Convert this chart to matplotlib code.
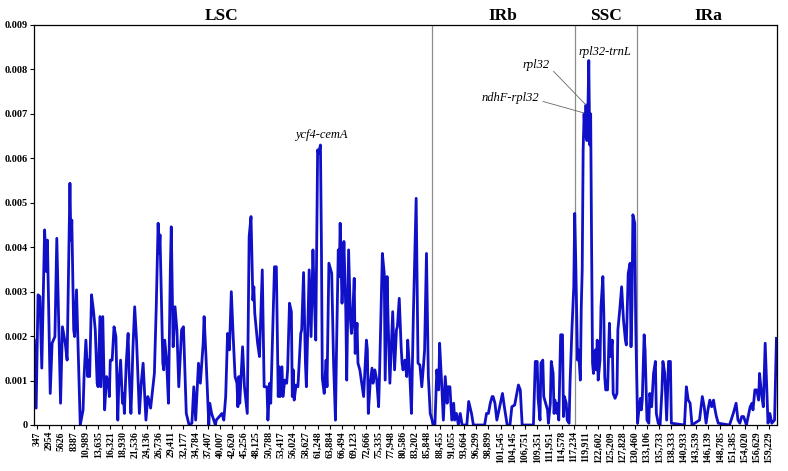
import matplotlib
matplotlib.use("Agg")
import matplotlib.pyplot as plt

# ---- data -------------------------------------------------------------
tick_labels = ["347", "2954", "5626", "8387", "10,989", "13,635", "16,321", "18,930",
               "21,536", "24,136", "26,736", "29,411", "32,177", "34,784", "37,407",
               "40,007", "42,620", "45,256", "48,125", "50,788", "53,417", "56,024",
               "58,627", "61,248", "63,884", "66,494", "69,123", "72,666", "75,335",
               "77,948", "80,586", "83,202", "85,848", "88,455", "91,055", "93,664",
               "96,299", "98,899", "101,545", "104,145", "106,751", "109,351", "111,951",
               "114,578", "117,234", "119,911", "122,602", "125,209", "127,828", "130,460",
               "133,106", "135,733", "138,333", "140,933", "143,539", "146,139", "148,785",
               "151,385", "154,020", "156,629", "159,229"]
tick_windows = [3 + 13 * k for k in range(len(tick_labels))]   # window index of each label

# window index (x) and nucleotide diversity Pi (x 0.001)
win = [0, 2, 4, 6, 8, 11, 13, 14, 17, 19, 22, 24, 28, 30, 33, 35, 38, 39, 40, 42, 43, 45, 49,
       52, 53, 55, 57, 58, 59, 61, 63, 65, 67, 68, 70, 71, 73, 75, 77, 79, 80, 81, 83, 85, 87,
       89, 90, 92, 94, 95, 96, 98, 100, 101, 103, 104, 105, 107, 109, 112, 114, 116, 119, 121,
       123, 124, 128, 130, 132, 133, 134, 137, 138, 139, 141, 143, 145, 146, 148, 150, 152,
       154, 157, 159, 162, 165, 168, 170, 172, 175, 177, 180, 181, 183, 186, 187, 189, 193,
       194, 200, 202, 204, 206, 208, 210, 212, 214, 216, 217, 218, 219, 222, 224, 227, 229,
       231, 233, 234, 235, 238, 240, 241, 243, 245, 248, 249, 251, 252, 256, 258, 260,
       261, 262, 264, 265, 267, 269, 270, 272, 274, 275, 276, 277, 279, 281, 284, 285, 287,
       289, 290, 293, 295, 297, 298, 300, 302, 303, 305, 306, 307, 309, 311, 312, 314, 317,
       319, 321, 322, 324, 325, 326, 328, 329, 330, 332, 333, 335, 337, 338, 339, 341, 342,
       344, 345, 347, 349, 351, 354, 355, 356, 358, 360, 361, 363, 365, 367, 368, 371, 373,
       374, 376, 377, 379, 381, 382, 384, 386, 387, 389, 391, 392, 393, 395, 397, 398, 400,
       402, 404, 407, 409, 411, 413, 415, 416, 418, 420, 422, 424, 425, 427, 429, 431, 432,
       434, 436, 438, 440, 441, 443, 445, 447, 448, 450, 452, 454, 456, 461, 463, 466, 468,
       480, 482, 484, 486, 488, 489, 491, 493, 496, 499, 501, 504, 507, 509, 512, 516, 518,
       519, 520, 532, 534, 536, 537, 539, 540, 542, 543, 545, 547, 548, 550, 551, 553, 554,
       555, 557, 558, 559, 561, 563, 564, 565, 567, 568, 570, 571, 573, 575, 576, 577, 579,
       580, 582, 583, 584, 585, 586, 587, 588, 589, 590, 591, 592, 593, 594, 595, 596, 598,
       599, 600, 601, 603, 604, 606, 607, 608, 609, 611, 613, 614, 616, 617, 619, 621, 622,
       624, 626, 628, 630, 631, 633, 635, 636, 637, 638, 640, 641, 643, 644, 646, 647, 648,
       650, 651, 653, 655, 656, 658, 660, 662, 663, 665, 667, 669, 670, 672, 674, 676, 678,
       679, 693, 695, 697, 699, 701, 709, 712, 714, 716, 718, 720, 722, 724, 725, 727, 729,
       741, 745, 748, 750, 752, 754, 756, 759, 763, 765, 766, 768, 770, 772, 773, 775, 777,
       779, 780, 782, 784, 786, 789, 791]
pi_milli = [1.91, 0.38, 2.93, 2.89, 1.28, 4.39, 3.45, 4.16, 0.71, 1.84, 1.99, 4.20, 0.49, 2.21,
            1.84, 1.46, 5.44, 4.16, 4.61, 2.14, 1.99, 3.04, 0.0,
            0.34, 1.05, 1.91, 1.09, 1.46, 1.09, 2.93, 2.59, 2.14, 0.94, 0.86, 2.44, 0.86, 2.44,
            0.34, 1.09, 0.94, 0.64, 1.46, 1.46, 2.21, 1.99,
            0.11, 0.86, 1.46, 0.49, 0.71, 0.26, 1.39, 2.06, 1.24, 0.26, 0.86, 1.65, 2.66, 1.91,
            0.26, 0.94, 1.39, 0.11, 0.64,
            0.49, 0.38, 1.16, 2.66, 4.54, 3.86, 4.28, 1.39, 1.24, 1.91, 1.46, 0.49, 3.49, 4.46,
            1.76, 2.66, 2.14,
            0.86, 2.14, 2.21, 0.26, 0.0, 0.04, 0.86, 0.11, 1.39, 0.94, 1.84, 2.44, 1.54, 0.0,
            0.49, 0.26, 0.0,
            0.11, 0.26, 0.11, 0.64, 2.06, 1.69, 3.00, 1.99, 1.09, 0.94, 0.41, 1.09, 0.49, 1.76,
            0.86, 0.26, 4.24,
            4.69, 2.81, 3.11, 2.51, 1.84, 1.54, 2.21, 3.49, 0.86, 0.86, 0.11, 0.94, 0.49, 3.56,
            3.56, 0.64,
            1.31, 0.64, 1.31, 0.64, 1.01, 0.94, 1.24, 2.74, 2.55, 0.64, 1.24, 0.56, 0.90, 0.86,
            2.06, 2.14, 3.43,
            1.39, 0.86, 3.49, 1.99, 3.94, 3.19, 1.91, 6.19, 6.11, 6.30, 4.16, 1.05, 0.71, 1.46,
            0.86, 3.64, 3.41,
            1.39, 0.11, 1.54, 3.94, 3.34, 4.54, 2.74, 3.34, 4.13, 2.59, 1.01, 3.94, 2.36, 2.06,
            2.29, 3.30, 1.61,
            2.29, 1.39, 1.24, 0.94, 0.64, 1.91, 1.69, 0.26, 0.94, 1.28, 0.94, 1.24, 1.01, 0.41,
            1.16, 3.86, 3.41,
            1.01, 3.34, 2.44, 0.94, 1.99, 2.55, 1.24, 2.14, 2.21, 2.85, 1.76, 1.39, 1.24, 1.46,
            1.09, 1.91, 1.24,
            0.26, 2.44, 5.10, 1.39, 1.35, 0.86, 1.39, 1.69, 3.86, 1.09, 0.26, 0.11, 0.0, 0.0,
            1.24, 0.79, 1.84,
            1.01, 0.11, 1.09, 0.49, 0.86, 0.86, 0.11, 0.49, 0.11, 0.26, 0.0, 0.26, 0.0, 0.0,
            0.53, 0.26, 0.0,
            0.0, 0.26, 0.26, 0.49, 0.64, 0.64, 0.49, 0.11, 0.41, 0.71, 0.41, 0.0, 0.0, 0.41,
            0.45, 0.90, 0.79,
            0.41, 0.0, 0.0, 1.43, 1.43, 0.60, 0.11, 1.39, 1.46, 0.64, 0.49, 0.34, 0.04, 0.49,
            1.43, 1.16, 0.26,
            0.56, 0.26, 0.49, 0.11, 2.03, 2.03, 0.19, 0.64, 0.49, 0.11, 0.04, 0.94, 2.14, 3.11,
            4.76, 3.79, 1.46,
            1.69, 1.01, 2.66, 3.50, 6.20, 7.00, 6.50, 7.20, 6.40, 7.00, 8.20, 6.30, 7.00, 4.00,
            1.39, 1.16, 1.69,
            1.24, 1.91, 1.01, 1.46, 2.66, 3.34, 2.51, 1.09, 0.79, 0.79, 2.29, 1.54, 1.91, 0.71,
            0.60, 0.71, 2.14,
            2.59, 3.11, 2.36, 1.91, 1.80, 3.41, 3.64, 1.76, 2.66, 4.73, 4.54, 2.29, 0.04, 0.26,
            0.60, 0.34, 0.56,
            2.03, 1.69, 0.11, 0.04, 0.71, 0.41, 1.16, 1.43, 0.26, 0.04, 0.0, 0.79, 1.43, 1.16,
            0.11, 1.43, 1.43,
            0.04, 0.0, 0.86, 0.56, 0.49, 0.0, 0.11, 0.64, 0.41, 0.04, 0.34, 0.56, 0.41, 0.56,
            0.41, 0.19, 0.04,
            0.0, 0.26, 0.49, 0.11, 0.04, 0.19, 0.19, 0.0, 0.41, 0.49, 0.34, 0.79, 0.79, 0.56,
            1.16, 0.71, 0.41,
            1.84, 1.24, 0.04, 0.26, 0.04, 0.11, 1.95]
pi = [v / 1000.0 for v in pi_milli]

y_ticks = [0, 0.001, 0.002, 0.003, 0.004, 0.005, 0.006, 0.007, 0.008, 0.009]
y_tick_labels = ["0", "0.001", "0.002", "0.003", "0.004", "0.005", "0.006", "0.007", "0.008", "0.009"]

region_names = ["LSC", "IRb", "SSC", "IRa"]
region_label_pos = [200, 499, 609, 718]
region_borders = [424, 576, 642]

# ---- figure -----------------------------------------------------------
serif = ["Liberation Serif", "DejaVu Serif"]
fig = plt.figure(figsize=(7.88, 4.71), dpi=100)
ax = fig.add_axes([34 / 788, 1 - 425 / 471, (777 - 34) / 788, 400 / 471])

ax.plot(win, pi, color="#1010C8", lw=2.0, solid_joinstyle="round")

for b in region_borders:
    ax.axvline(b, color="#8c8c8c", lw=0.9, zorder=1)

ax.set_xlim(-0.3, 791.6)
ax.set_ylim(0, 0.009)

ax.set_xticks(tick_windows)
ax.set_xticklabels(tick_labels, rotation=90, family=serif, fontweight="bold", fontsize=7)
ax.set_yticks(y_ticks)
ax.set_yticklabels(y_tick_labels, family=serif, fontweight="bold", fontsize=7.5)
ax.tick_params(axis="both", direction="out", length=3, width=0.8, pad=1.5)

for s in ax.spines.values():
    s.set_linewidth(0.9)

for name, pos in zip(region_names, region_label_pos):
    ax.text(pos, 1.003, name, transform=ax.get_xaxis_transform(), ha="center", va="bottom",
            family=serif, fontweight="bold", fontsize=12.5)

ax.text(306, 0.0064, "ycf4-cemA", ha="center", va="bottom", family=serif, style="italic", fontsize=9)
ax.text(608, 0.0084, "rpl32-trnL", ha="center", va="center", family=serif, style="italic", fontsize=9)
ax.annotate("rpl32", xy=(588, 0.0072), xytext=(535, 0.0081), ha="center", va="center",
            family=serif, style="italic", fontsize=9,
            arrowprops=dict(arrowstyle="-", color="#666666", lw=0.6, relpos=(1, 0.3),
                            shrinkA=1, shrinkB=0))
ax.annotate("ndhF-rpl32", xy=(586, 0.00702), xytext=(507, 0.00736), ha="center", va="center",
            family=serif, style="italic", fontsize=9,
            arrowprops=dict(arrowstyle="-", color="#666666", lw=0.6, relpos=(1, 0.3),
                            shrinkA=1, shrinkB=0))

fig.savefig("out.png", dpi=100)
